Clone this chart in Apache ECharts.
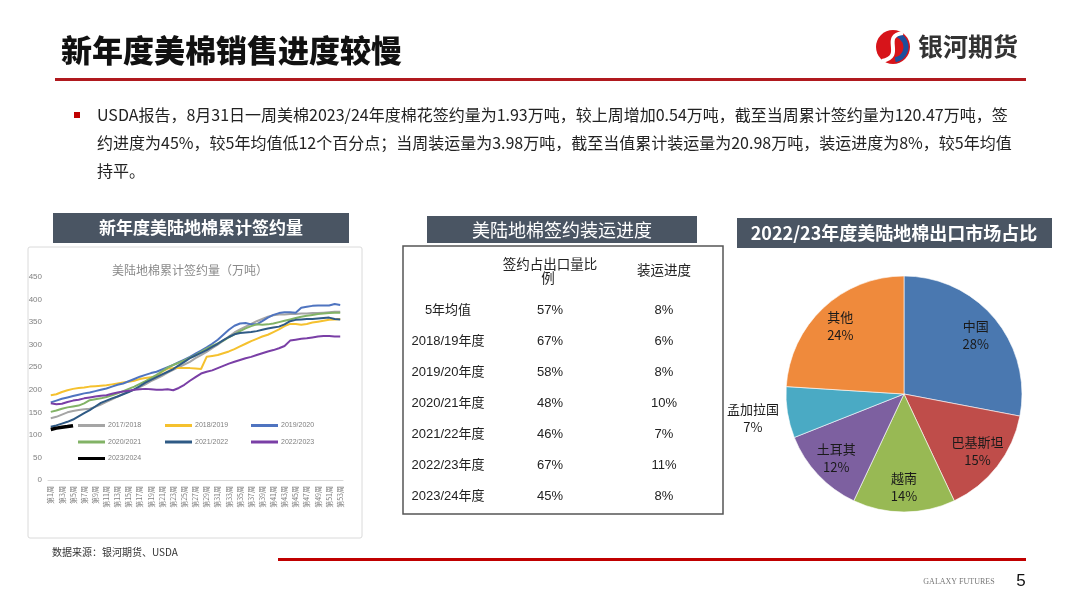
<!DOCTYPE html>
<html>
<head>
<meta charset="utf-8">
<script src="https://cdn.jsdelivr.net/npm/echarts@6/dist/echarts.min.js"></script>
<style>
html, body { margin: 0; padding: 0; background: #fff; }
#slide { width: 1080px; height: 608px; }
</style>
</head>
<body>
<div id="slide"></div>
<script>
// ---- data ----
const weekLabels = [];
for (let w = 1; w <= 53; w++) weekLabels.push('第' + w + '周');

const seasons = ['2017/2018', '2018/2019', '2019/2020', '2020/2021', '2021/2022', '2022/2023', '2023/2024'];

const s1718 = [137, 140, 145, 150, 153, 155, 157, 158, 162, 167, 173, 179, 185, 191, 196, 200, 206, 212, 219, 225, 231, 238, 244, 250, 256, 262, 270, 277, 284, 292, 300, 309, 318, 327, 334, 340, 346, 352, 357, 362, 365, 367, 367, 368, 368, 369, 369, 370, 370, 371, 372, 373, 373];
const s1819 = [188, 190, 195, 199, 202, 204, 205, 207, 208, 209, 210, 212, 214, 216, 218, 220, 224, 226, 228, 230, 240, 247, 248, 248, 248, 248, 247, 246, 273, 275, 277, 281, 285, 290, 296, 302, 308, 313, 318, 322, 328, 334, 341, 346, 346, 344, 346, 349, 351, 353, 355, 356, 357];
const s1920 = [172, 176, 180, 183, 186, 189, 192, 194, 197, 200, 203, 207, 211, 214, 219, 224, 229, 233, 237, 240, 245, 250, 255, 261, 267, 273, 280, 287, 294, 302, 311, 322, 333, 342, 347, 348, 345, 345, 352, 360, 366, 370, 372, 372, 371, 382, 384, 386, 387, 387, 387, 390, 388];
const s2021 = [151, 154, 158, 161, 163, 165, 170, 177, 179, 181, 184, 188, 192, 197, 202, 207, 213, 219, 226, 233, 241, 249, 255, 260, 265, 271, 277, 284, 291, 297, 303, 309, 316, 323, 330, 336, 341, 345, 344, 345, 347, 350, 353, 356, 359, 362, 364, 366, 368, 369, 370, 371, 371];
const s2122 = [118, 121, 125, 129, 134, 141, 148, 155, 163, 171, 176, 181, 185, 190, 195, 201, 208, 216, 222, 228, 234, 240, 246, 254, 262, 270, 276, 282, 288, 295, 302, 310, 317, 323, 326, 327, 328, 330, 333, 336, 338, 340, 345, 352, 355, 356, 357, 357, 358, 359, 360, 357, 356];
const s2223 = [170, 168, 169, 173, 176, 178, 181, 183, 185, 187, 188, 191, 194, 196, 198, 200, 201, 202, 201, 200, 200, 201, 199, 204, 211, 220, 228, 236, 240, 243, 248, 253, 258, 262, 266, 270, 273, 277, 281, 285, 288, 292, 297, 309, 311, 313, 314, 316, 318, 319, 319, 318, 318];
const s2324 = [112, 115, 117, 118.5, 120.47];

const seasonValues = [s1718, s1819, s1920, s2021, s2122, s2223, s2324];
const seasonColors = ['#a5a5a5', '#f5c12e', '#4f74c0', '#82b366', '#2f5a85', '#7a3fa6', '#000000'];

const yTicks = [0, 50, 100, 150, 200, 250, 300, 350, 400, 450];

const tableRows = ['5年均值', '2018/19年度', '2019/20年度', '2020/21年度', '2021/22年度', '2022/23年度', '2023/24年度'];
const signedShare = ['57%', '67%', '58%', '48%', '46%', '67%', '45%'];
const shippedShare = ['8%', '6%', '8%', '10%', '7%', '11%', '8%'];

const marketNames = ['中国', '巴基斯坦', '越南', '土耳其', '孟加拉国', '其他'];
const marketShares = [28, 15, 14, 12, 7, 24];
const marketColors = ['#4a78b0', '#bf4d4a', '#98b954', '#7d60a0', '#4aaac4', '#ef8a3c'];

const bulletLines = [
  'USDA报告，8月31日一周美棉2023/24年度棉花签约量为1.93万吨，较上周增加0.54万吨，截至当周累计签约量为120.47万吨，签',
  '约进度为45%，较5年均值低12个百分点；当周装运量为3.98万吨，截至当值累计装运量为20.98万吨，装运进度为8%，较5年均值',
  '持平。'
];

// ---- helpers ----
const CJK = '"Noto Sans CJK SC", sans-serif';
const MIX = '"Liberation Sans", "Noto Sans CJK SC", sans-serif';

function txt(text, x, y, font, fill, align) {
  return {
    type: 'text', x: x, y: y, silent: true,
    style: { text: text, font: font, fill: fill, textAlign: align || 'left', textVerticalAlign: 'middle', align: align || 'left', verticalAlign: 'middle' }
  };
}
function box(x, y, w, h, fill) {
  return { type: 'rect', silent: true, shape: { x: x, y: y, width: w, height: h }, style: { fill: fill } };
}

const graphics = [];
// header
graphics.push(txt('新年度美棉销售进度较慢', 61, 50, '900 31px ' + CJK, '#111'));
graphics.push(box(55, 78, 971, 3, '#b0191e'));
graphics.push({ type: 'circle', silent: true, shape: { cx: 893, cy: 47, r: 17 }, style: { fill: '#d7141a' } });
graphics.push({ type: 'arc', silent: true, shape: { cx: 893, cy: 47, r: 13, startAngle: -1.2, endAngle: 1.4 }, style: { stroke: '#1d4f9c', lineWidth: 5, fill: null } });
graphics.push({ type: 'bezierCurve', silent: true, shape: { x1: 903, y1: 33, cpx1: 880, cpy1: 36, cpx2: 906, cpy2: 56, x2: 882, y2: 61 }, style: { stroke: '#fff', lineWidth: 4, fill: null } });
graphics.push(txt('银河期货', 918, 46, 'bold 25px ' + CJK, '#333'));

// bullet paragraph
graphics.push(box(74, 112, 6, 6, '#c00000'));
bulletLines.forEach(function (line, i) {
  graphics.push(txt(line, 97, 115 + i * 28, '16px ' + CJK, '#222'));
});

// left panel
graphics.push({ type: 'rect', silent: true, shape: { x: 28, y: 247, width: 334, height: 291, r: 2 }, style: { fill: null, stroke: '#dadada', lineWidth: 1 } });
graphics.push(box(53, 213, 296, 30, '#4a5563'));
graphics.push(txt('新年度美陆地棉累计签约量', 201, 228, 'bold 17px ' + CJK, '#fff', 'center'));
graphics.push(txt('美陆地棉累计签约量（万吨）', 190, 270, '12px ' + CJK, '#8a8a8a', 'center'));
graphics.push(txt('数据来源：银河期货、USDA', 52, 552, '10px ' + CJK, '#333'));

// middle table
graphics.push(box(427, 216, 270, 27, '#4a5563'));
graphics.push(txt('美陆地棉签约装运进度', 562, 230, '18px ' + CJK, '#fff', 'center'));
graphics.push({ type: 'rect', silent: true, shape: { x: 403, y: 246, width: 320, height: 268 }, style: { fill: null, stroke: '#555', lineWidth: 1.5 } });
graphics.push(txt('签约占出口量比', 550, 264, '13.5px ' + CJK, '#222', 'center'));
graphics.push(txt('例', 548, 278, '13.5px ' + CJK, '#222', 'center'));
graphics.push(txt('装运进度', 664, 270, '13.5px ' + CJK, '#222', 'center'));
tableRows.forEach(function (row, i) {
  const y = 310 + i * 31.1;
  graphics.push(txt(row, 448, y, '13px ' + MIX, '#222', 'center'));
  graphics.push(txt(signedShare[i], 550, y, '13px ' + MIX, '#222', 'center'));
  graphics.push(txt(shippedShare[i], 664, y, '13px ' + MIX, '#222', 'center'));
});

// right panel
graphics.push(box(737, 218, 315, 30, '#4a5563'));
graphics.push(txt('2022/23年度美陆地棉出口市场占比', 894, 233, 'bold 18px ' + CJK, '#fff', 'center'));

// footer
graphics.push(box(278, 558, 748, 3, '#c00000'));
graphics.push(txt('GALAXY FUTURES', 959, 582, '8px "Liberation Serif", serif', '#777', 'center'));
graphics.push(txt('5', 1021, 581, '17px "Liberation Sans", sans-serif', '#111', 'center'));

// ---- series ----
const lineSeries = seasons.map(function (name, i) {
  return {
    name: name, type: 'line', data: seasonValues[i], symbol: 'none', smooth: false,
    lineStyle: { width: i === 6 ? 3.5 : 2, color: seasonColors[i] },
    itemStyle: { color: seasonColors[i] },
    z: i === 6 ? 4 : 3
  };
});

const pieBase = { type: 'pie', center: [904, 394], startAngle: 90, clockwise: true, silent: true, animation: false };
const pieLabel = { fontSize: 13, lineHeight: 18, color: '#1a1a1a', fontFamily: CJK, formatter: '{b}\n{c}%' };

const slicePie = Object.assign({}, pieBase, {
  radius: 118,
  label: { show: false }, labelLine: { show: false },
  itemStyle: { borderColor: 'rgba(255,255,255,0.6)', borderWidth: 1 },
  data: marketNames.map(function (n, i) { return { name: n, value: marketShares[i], itemStyle: { color: marketColors[i] } }; }),
  z: 2
});
const innerLabelPie = Object.assign({}, pieBase, {
  radius: 180,
  itemStyle: { color: 'rgba(0,0,0,0)', borderWidth: 0 },
  label: Object.assign({ show: true, position: 'inside' }, pieLabel),
  labelLine: { show: false },
  emphasis: { disabled: true },
  data: marketNames.map(function (n, i) { return { name: n, value: marketShares[i], label: { show: n !== '孟加拉国' } }; }),
  z: 5
});
const outerLabelPie = Object.assign({}, pieBase, {
  radius: 300,
  itemStyle: { color: 'rgba(0,0,0,0)', borderWidth: 0 },
  label: Object.assign({ show: false, position: 'inside' }, pieLabel),
  labelLine: { show: false },
  emphasis: { disabled: true },
  data: marketNames.map(function (n, i) { return { name: n, value: marketShares[i], label: { show: n === '孟加拉国' } }; }),
  z: 5
});

const legendCommon = {
  orient: 'vertical', top: 420.5, itemGap: 6.5, itemWidth: 27, itemHeight: 3, icon: 'rect',
  selectedMode: false, padding: 0,
  textStyle: { fontSize: 7, lineHeight: 10, color: '#7f7f7f', fontFamily: '"Liberation Sans", sans-serif', padding: [0, 0, 0, -2] }
};

const option = {
  animation: false,
  backgroundColor: '#fff',
  graphic: { elements: graphics },
  legend: [
    Object.assign({}, legendCommon, { left: 78, data: ['2017/2018', '2020/2021', '2023/2024'] }),
    Object.assign({}, legendCommon, { left: 165, data: ['2018/2019', '2021/2022'] }),
    Object.assign({}, legendCommon, { left: 251, data: ['2019/2020', '2022/2023'] })
  ],
  grid: { left: 48, top: 277, width: 295, height: 203, containLabel: false, outerBoundsMode: 'none' },
  xAxis: {
    type: 'category', data: weekLabels, boundaryGap: true,
    axisLine: { lineStyle: { color: '#d9d9d9', width: 1 } },
    axisTick: { show: false },
    axisLabel: { interval: 1, rotate: 90, fontSize: 7, color: '#808080', margin: 6, fontFamily: CJK },
    splitLine: { show: false }
  },
  yAxis: {
    type: 'value', min: yTicks[0], max: yTicks[yTicks.length - 1], interval: 50,
    axisLine: { show: false }, axisTick: { show: false }, splitLine: { show: false },
    axisLabel: { fontSize: 8, color: '#808080', margin: 6, fontFamily: '"Liberation Sans", sans-serif' }
  },
  series: lineSeries.concat([slicePie, innerLabelPie, outerLabelPie])
};

const chart = echarts.init(document.getElementById('slide'), null, { renderer: 'canvas' });
chart.setOption(option);
window.addEventListener('resize', function () { chart.resize(); });
</script>
</body>
</html>
